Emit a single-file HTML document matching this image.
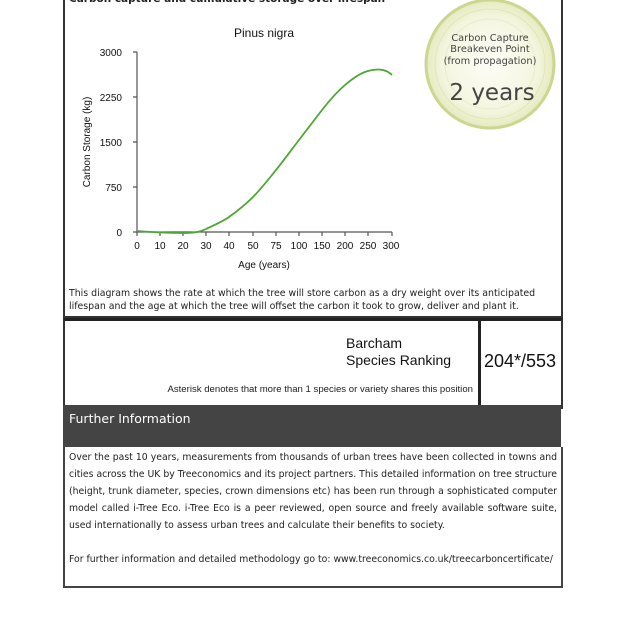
<!DOCTYPE html>
<html><head><style>
body{margin:0;width:620px;height:620px;background:#fff;position:relative;font-family:"Liberation Sans",sans-serif;overflow:hidden}
.a{position:absolute}
.dv{font-family:"DejaVu Sans",sans-serif}
</style></head><body>
<div class="a" style="left:63px;top:-5px;width:496px;height:321px;border:2px solid #333;border-top:none"></div>
<div class="a dv" style="left:69px;top:-7px;font-size:10.5px;font-weight:bold;color:#222">Carbon capture and cumulative storage over lifespan</div>
<svg class="a" style="left:0;top:0" width="620" height="320">
<defs><radialGradient id="g"><stop offset="0" stop-color="#fdfdf6"/><stop offset="0.75" stop-color="#f4f5df"/><stop offset="1" stop-color="#e6eabf"/></radialGradient></defs>
<circle cx="490" cy="64" r="64" fill="url(#g)" stroke="#cdd68e" stroke-width="3"/>
<circle cx="490" cy="64" r="55" fill="none" stroke="#e2e6b8" stroke-width="1"/>
<circle cx="490" cy="64" r="45" fill="none" stroke="#e9ecc8" stroke-width="1"/>
<text x="490" y="41" font-family="DejaVu Sans" font-size="9.8" fill="#444" text-anchor="middle">Carbon Capture</text>
<text x="490" y="52" font-family="DejaVu Sans" font-size="9.8" fill="#444" text-anchor="middle">Breakeven Point</text>
<text x="490" y="64" font-family="DejaVu Sans" font-size="9.8" fill="#444" text-anchor="middle">(from propagation)</text>
<text x="492" y="100" font-family="DejaVu Sans" font-size="23" fill="#444" text-anchor="middle">2 years</text>
<text x="264" y="37" font-size="12" text-anchor="middle" fill="#111">Pinus nigra</text>
<g stroke="#555" stroke-width="1.2" fill="none">
<path d="M137 52V232H392"/>
<path d="M133 52H137M133 97H137M133 142H137M133 187H137M133 232H137"/>
<path d="M137 232v4M160 232v4M183 232v4M206 232v4M229 232v4M253 232v4M276 232v4M299 232v4M322 232v4M345 232v4M368 232v4M392 232v4"/>
</g>
<g font-size="10" fill="#111" text-anchor="end">
<text x="122" y="56">3000</text><text x="122" y="101">2250</text><text x="122" y="146">1500</text><text x="122" y="191">750</text><text x="122" y="236">0</text>
</g>
<g font-size="10" fill="#111" text-anchor="middle">
<text x="137" y="249">0</text><text x="160" y="249">10</text><text x="183" y="249">20</text><text x="206" y="249">30</text><text x="229" y="249">40</text><text x="253" y="249">50</text><text x="276" y="249">75</text><text x="299" y="249">100</text><text x="322" y="249">150</text><text x="345" y="249">200</text><text x="368" y="249">250</text><text x="391" y="249">300</text>
</g>
<text x="264" y="268" font-size="10" text-anchor="middle" fill="#111">Age (years)</text>
<text transform="translate(90,142) rotate(-90)" font-size="10" text-anchor="middle" fill="#111">Carbon Storage (kg)</text>
<path d="M137 231C150 232 170 233 183 233C195 233 200 232 206 229S222 222 229 217S246 204 253 197S268 180 276 170S292 149 299 140S315 119 322 110S338 91 345 85S360 73 368 71S385 68 392 75" fill="none" stroke="#4aa832" stroke-width="1.8"/>
<text x="69" y="296" font-family="DejaVu Sans" font-size="9.4" fill="#222">This diagram shows the rate at which the tree will store carbon as a dry weight over its anticipated</text>
<text x="69" y="309" font-family="DejaVu Sans" font-size="9.4" fill="#222">lifespan and the age at which the tree will offset the carbon it took to grow, deliver and plant it.</text>
</svg>
<div class="a" style="left:63px;top:318px;width:496px;height:86px;border:2px solid #333;border-top:3px solid #222"></div>
<div class="a" style="left:478px;top:318px;width:3px;height:88px;background:#222"></div>
<div class="a" style="left:346px;top:335px;font-size:14px;line-height:17px;color:#111">Barcham<br>Species Ranking</div>
<div class="a" style="left:484px;top:351px;font-size:18px;color:#111">204*/553</div>
<div class="a" style="right:147px;top:384px;font-size:9.6px;color:#222;white-space:nowrap">Asterisk denotes that more than 1 species or variety shares this position</div>
<div class="a dv" style="left:63px;top:405px;width:498px;height:42px;background:#444;color:#fff;font-size:12.5px;"><div style="padding:6px 6px">Further Information</div></div>
<div class="a" style="left:63px;top:447px;width:496px;height:139px;border:2px solid #444;border-top:none"></div>
<div class="a dv" style="left:69px;top:449px;width:488px;font-size:9.3px;line-height:17px;color:#222;text-align:justify;text-align-last:left">Over the past 10 years, measurements from thousands of urban trees have been collected in towns and cities across the UK by Treeconomics and its project partners. This detailed information on tree structure (height, trunk diameter, species, crown dimensions etc) has been run through a sophisticated computer model called i-Tree Eco. i-Tree Eco is a peer reviewed, open source and freely available software suite, used internationally to assess urban trees and calculate their benefits to society.<br><br><span style="white-space:nowrap">For further information and detailed methodology go to: www.treeconomics.co.uk/treecarboncertificate/</span></div>
</body></html>
